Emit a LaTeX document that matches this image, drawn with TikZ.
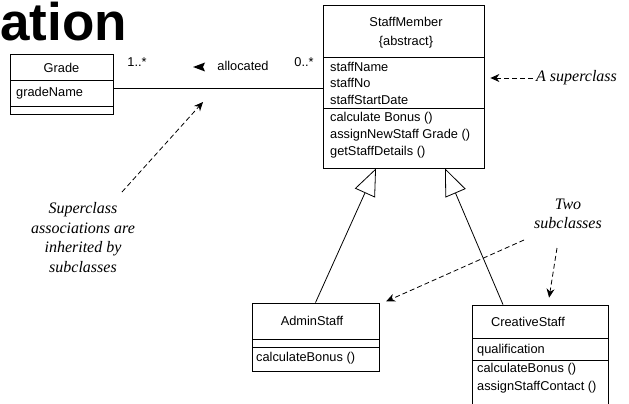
\documentclass[tikz,border=0pt]{standalone}
\usepackage{fontspec}
\setmainfont{Liberation Sans}
\newfontfamily\notefont{Liberation Serif}
\usetikzlibrary{arrows.meta}
\begin{document}
\begin{tikzpicture}[x=1pt,y=-1pt,
  cls/.style={draw, line width=0.8pt, inner sep=0pt},
  divider/.style={line width=0.8pt},
  lbl/.style={inner sep=0pt, font=\fontsize{12.8}{14}\selectfont},
  attr/.style={lbl, anchor=west},
  note/.style={inner sep=0pt, align=center, font=\notefont\itshape\fontsize{16}{19.6}\selectfont},
  notearrow/.style={dash pattern=on 5pt off 3pt, line width=0.8pt, -{Stealth[length=9pt,width=8pt]}},
  gen/.style={line width=0.8pt, -{Triangle[open, fill=white, length=27pt, width=22pt]}}
]
\useasboundingbox (0,0) rectangle (629,404);
\clip (0,0) rectangle (629,404);

% heading fragment
\node[anchor=base west, inner sep=0pt, font=\bfseries\fontsize{53}{60}\selectfont] (title) at (0,41) {ation};

% class Grade
\node[cls, minimum width=103pt, minimum height=60pt] (grade) at (61.5,84) {};
\draw[divider] (10,80) -- (113,80);
\draw[divider] (10,106) -- (113,106);
\node[lbl] (gradeT) at (61.5,68) {Grade};
\node[attr] (gradeA) at (16,93) {gradeName};

% class StaffMember
\node[cls, minimum width=161pt, minimum height=163pt] (sm) at (403.5,86.5) {};
\draw[divider] (323,57) -- (484,57);
\draw[divider] (323,108) -- (484,108);
\node[lbl] (smT) at (406,22) {StaffMember};
\node[lbl] (smS) at (406,42) {\{abstract\}};
\node[attr] (smA1) at (330,67) {staffName};
\node[attr] (smA2) at (330,83) {staffNo};
\node[attr] (smA3) at (330,100) {staffStartDate};
\node[attr] (smM1) at (330,118) {calculate Bonus ()};
\node[attr] (smM2) at (330,135) {assignNewStaff Grade ()};
\node[attr] (smM3) at (330,152) {getStaffDetails ()};

% class AdminStaff
\node[cls, minimum width=127pt, minimum height=68pt] (admin) at (315.5,337) {};
\draw[divider] (252,339) -- (379,339);
\draw[divider] (252,347) -- (379,347);
\node[lbl] (adminT) at (312,321) {AdminStaff};
\node[attr] (adminM1) at (256,358) {calculateBonus ()};

% class CreativeStaff
\node[cls, minimum width=136pt, minimum height=115pt] (creative) at (540,362.5) {};
\draw[divider] (472,338) -- (608,338);
\draw[divider] (472,360) -- (608,360);
\node[lbl] (creativeT) at (528,322) {CreativeStaff};
\node[attr] (creativeA1) at (477,350) {qualification};
\node[attr] (creativeM1) at (477,369) {calculateBonus ()};
\node[attr] (creativeM2) at (477,387) {assignStaffContact ()};

% association
\coordinate (assocY) at (0,88);
\draw[line width=0.8pt] (grade.east |- assocY) -- (sm.west |- assocY);
\node[lbl] (multL) at (137,62) {1..*};
\node[lbl] (assocName) at (243,66) {allocated};
\node[lbl] (multR) at (304,62) {0..*};
\fill (193,67) -- (205,62.5) -- (203,67) -- (205,71.5) -- cycle;

% generalisations
\draw[gen] (admin.north) -- ([xshift=-27.5pt]sm.south);
\draw[gen] ([xshift=-37pt]creative.north) -- ([xshift=41.5pt]sm.south);

% annotations
\node[note] (inhNote) at (83,237.5) {Superclass\\associations are\\inherited by\\subclasses};
\coordinate (inhFrom) at (122,192);
\coordinate (inhTo) at (203,102);
\draw[notearrow] (inhFrom) -- (inhTo);

\node[note, anchor=west] (supNote) at (536,78) {A superclass};
\draw[notearrow, shorten <=3pt, shorten >=6pt] (supNote.west) -- (supNote.west -| sm.east);

\node[note] (subNote) at (568,214) {Two\\subclasses};
\coordinate (subFrom1) at (524,240);
\coordinate (subFrom2) at (557,248);
\draw[notearrow, shorten >=3pt] (subFrom1) -- ([xshift=4pt]admin.north east);
\draw[notearrow, shorten >=7pt] (subFrom2) -- ([xshift=8pt]creative.north);
\end{tikzpicture}
\end{document}
